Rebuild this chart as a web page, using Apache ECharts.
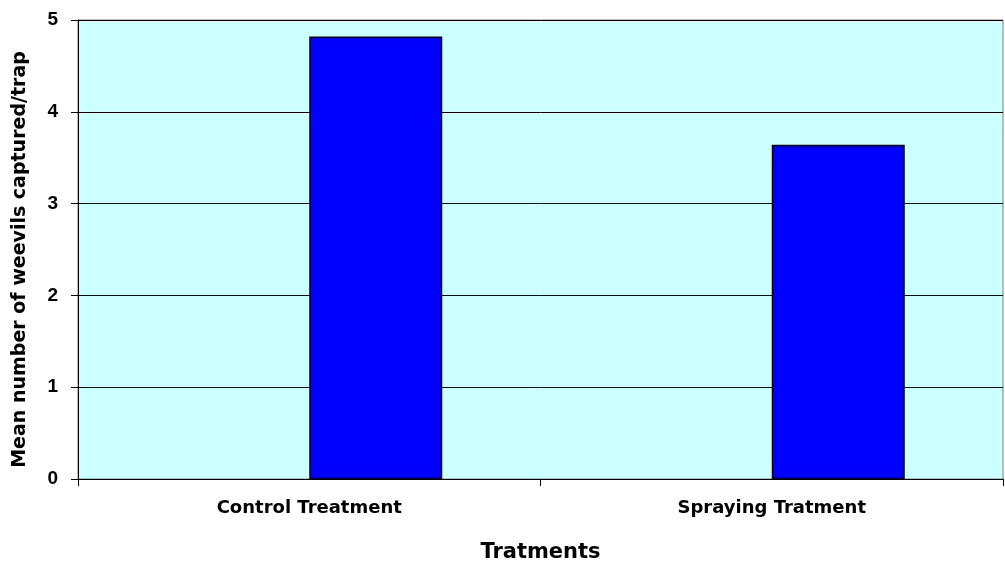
<!DOCTYPE html>
<html>
<head>
<meta charset="utf-8">
<script src="https://cdn.jsdelivr.net/npm/echarts@6/dist/echarts.min.js"></script>
<style>
html,body{margin:0;padding:0;background:#fff;}
#chart{width:1005px;height:570px;}
</style>
</head>
<body>
<div id="chart"></div>
<script>
const categories = ['Control Treatment', 'Spraying Tratment'];
const emptySeriesValues = [null, null];
const meanWeevils = [4.82, 3.64];
const yTicks = [0, 1, 2, 3, 4, 5];

const chart = echarts.init(document.getElementById('chart'), null, {renderer: 'canvas'});
const boldFont = '"DejaVu Sans", sans-serif';
chart.setOption({
  backgroundColor: '#ffffff',
  animation: false,
  grid: {
    left: 78, right: 2, top: 20, bottom: 91,
    show: true, backgroundColor: '#ccffff', borderColor: '#808080', borderWidth: 1
  },
  xAxis: {
    type: 'category',
    data: categories,
    name: 'Tratments',
    nameLocation: 'middle',
    nameGap: 63,
    nameTextStyle: {fontFamily: boldFont, fontWeight: 'bold', fontSize: 21, color: '#000'},
    axisLine: {lineStyle: {color: '#000', width: 1}},
    axisTick: {show: true, length: 7, lineStyle: {color: '#000'}},
    axisLabel: {margin: 20, fontFamily: boldFont, fontWeight: 'bold', fontSize: 18, color: '#000'},
    splitLine: {show: false}
  },
  yAxis: {
    type: 'value',
    min: yTicks[0],
    max: yTicks[yTicks.length - 1],
    interval: 1,
    name: 'Mean number of weevils captured/trap',
    nameLocation: 'middle',
    nameGap: 48,
    nameTextStyle: {fontFamily: boldFont, fontWeight: 'bold', fontSize: 19, color: '#000', padding: [0, 20, 0, 0]},
    axisLine: {show: true, lineStyle: {color: '#000', width: 1}},
    axisTick: {show: true, length: 7, lineStyle: {color: '#000'}},
    axisLabel: {margin: 20, fontFamily: '"Liberation Sans", Arial, sans-serif', fontWeight: 'bold', fontSize: 19, color: '#000'},
    splitLine: {show: true, lineStyle: {color: '#000', width: 1}}
  },
  series: [
    {
      name: 'Series 1',
      type: 'bar',
      data: emptySeriesValues,
      barWidth: 133,
      barGap: '0%',
      itemStyle: {color: '#0000ff', borderColor: '#000', borderWidth: 1}
    },
    {
      name: 'Mean weevils',
      type: 'bar',
      data: meanWeevils,
      barWidth: 133,
      barGap: '0%',
      itemStyle: {color: '#0000ff', borderColor: '#000', borderWidth: 1.5}
    }
  ]
});
</script>
</body>
</html>
